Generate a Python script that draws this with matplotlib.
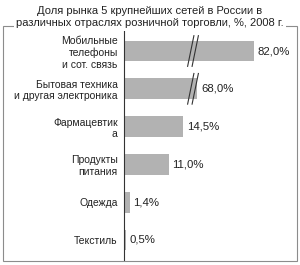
import matplotlib.pyplot as plt
from matplotlib.patches import Rectangle
import numpy as np

plt.rcParams['font.family'] = ['Liberation Sans', 'DejaVu Sans']

# Данные
categorias = ["Мобильные\nтелефоны\nи сот. связь",
              "Бытовая техника\nи другая электроника",
              "Фармацевтик\nа",
              "Продукты\nпитания",
              "Одежда",
              "Текстиль"]
valores = [82.0, 68.0, 14.5, 11.0, 1.4, 0.5]
titulo = "Доля рынка 5 крупнейших сетей в России в\nразличных отраслях розничной торговли, %, 2008 г."

# Разрыв оси: значения выше порога сдвигаются на величину разрыва
corte = 16.5
hueco = 50.0

def escala(v):
    return v if v <= corte else v - hueco

fig = plt.figure(figsize=(3.0, 2.65), dpi=100)
ax = fig.add_axes([124/300, 1 - 260/265, 173/300, 230/265])

y = np.arange(len(categorias))
largos = [escala(v) for v in valores]
ax.barh(y, largos, height=0.55, color='#b2b2b2', zorder=2)

for yi, v, l in zip(y, valores, largos):
    ax.text(l + 0.9, yi, f"{v:.1f}%".replace('.', ','), va='center', ha='left',
            fontsize=8.2, color='#222222')
    if v > corte:
        # marcas de corte "//"
        for dx in (0.0, 1.1):
            x0 = corte - 0.9 + dx
            ax.plot([x0, x0 + 1.6], [yi + 0.42, yi - 0.42], color='#333333',
                    lw=0.8, zorder=3, solid_capstyle='butt')

ax.set_xlim(0, 42.5)
ax.set_ylim(5.53, -0.556)
ax.set_yticks(y)
ax.set_yticklabels(categorias, fontsize=7.5, color='#222222')
ax.tick_params(axis='y', length=0, pad=4.5)
ax.set_xticks([])
for s in ['top', 'right', 'bottom']:
    ax.spines[s].set_visible(False)
ax.spines['left'].set_color('#333333')
ax.spines['left'].set_linewidth(0.8)

# Marco exterior
fig.patches.append(Rectangle((3/300, 1 - 261/265), 294/300, 235/265,
                             transform=fig.transFigure, fill=False,
                             edgecolor='#8c8c8c', lw=0.8, zorder=0))

fig.text(0.5, 1 - 17/265, titulo, ha='center', va='center', fontsize=8.0,
         color='#222222', linespacing=1.35,
         bbox=dict(facecolor='white', edgecolor='none', pad=1.5))

fig.savefig('out.png', dpi=100)
